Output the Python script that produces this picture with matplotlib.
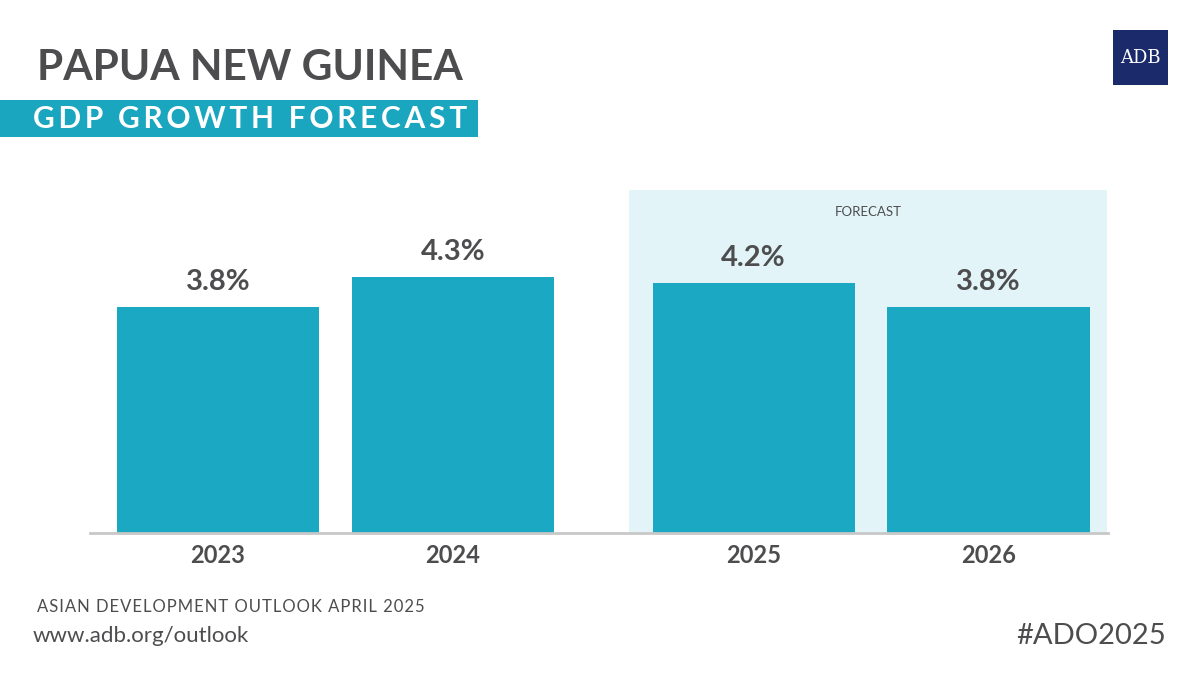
import matplotlib
matplotlib.use("Agg")
import matplotlib.pyplot as plt
from matplotlib.patches import Rectangle

years = ["2023", "2024", "2025", "2026"]
growth = [3.8, 4.3, 4.2, 3.8]
is_forecast = [False, False, True, True]

def spaced(s, sep="\u200a"):
    return sep.join(s)

plt.rcParams["font.family"] = "Lato"
fig = plt.figure(figsize=(12, 6.75), dpi=100)
fig.patch.set_facecolor("white")

ax = fig.add_axes([0.075, 0.2104, 0.848, 0.508])
gap = 0.28
xs = [i + (gap if f else 0) for i, f in enumerate(is_forecast)]
ax.set_xlim(-0.545, 3.787)
ax.set_ylim(0, 5.76)
ax.add_patch(Rectangle((1.749, 0), 2.034, 5.76, color="#e3f4f8", zorder=0, lw=0))
ax.text((1.749 + 3.783) / 2, 5.4, "FORECAST", ha="center", va="center",
        fontsize=9.5, color="#4d4d4f")
ax.bar(xs, growth, width=0.86, color="#1ba8c2", zorder=2)
for x, v, y in zip(xs, growth, years):
    ax.text(x, v + 0.2, f"{v:.1f}%", ha="center", va="bottom", fontsize=21,
            fontweight="bold", color="#4d4d4f")
ax.set_xticks(xs)
ax.set_xticklabels(years, fontsize=17, fontweight="bold", color="#4d4d4f")
ax.tick_params(axis="x", length=0, pad=8)
ax.set_yticks([])
for s in ["top", "right", "left"]:
    ax.spines[s].set_visible(False)
ax.spines["bottom"].set_color("#c8c8c8")
ax.spines["bottom"].set_linewidth(2)

fig.text(37/1200, 1 - 68/675, "PAPUA NEW GUINEA", fontsize=30.5, fontweight="bold",
         color="#4d4d4f", va="center", ha="left")
fig.patches.append(Rectangle((0, 1 - 137/675), 478/1200, 37/675,
                             transform=fig.transFigure, color="#1ba6c0", lw=0))
fig.text(33/1200, 1 - 119/675, spaced("GDP GROWTH FORECAST", "\u2009"),
         fontsize=21.5, fontweight="bold", color="white", va="center", ha="left")
fig.patches.append(Rectangle((1113/1200, 1 - 85/675), 55/1200, 55/675,
                             transform=fig.transFigure, color="#1b2a6b", lw=0))
fig.text(1140.5/1200, 1 - 58/675, "ADB", fontsize=13, family="DejaVu Serif",
         color="white", ha="center", va="center")
fig.text(37/1200, 1 - 607/675, spaced("ASIAN DEVELOPMENT OUTLOOK APRIL 2025"), fontsize=12,
         color="#4d4d4f", va="center", ha="left")
fig.text(33/1200, 1 - 636/675, "www.adb.org/outlook", fontsize=16,
         color="#4d4d4f", va="center", ha="left")
fig.text(1166/1200, 1 - 636/675, "#ADO2025", fontsize=21,
         color="#4d4d4f", va="center", ha="right")

fig.savefig("out.png", dpi=100)
